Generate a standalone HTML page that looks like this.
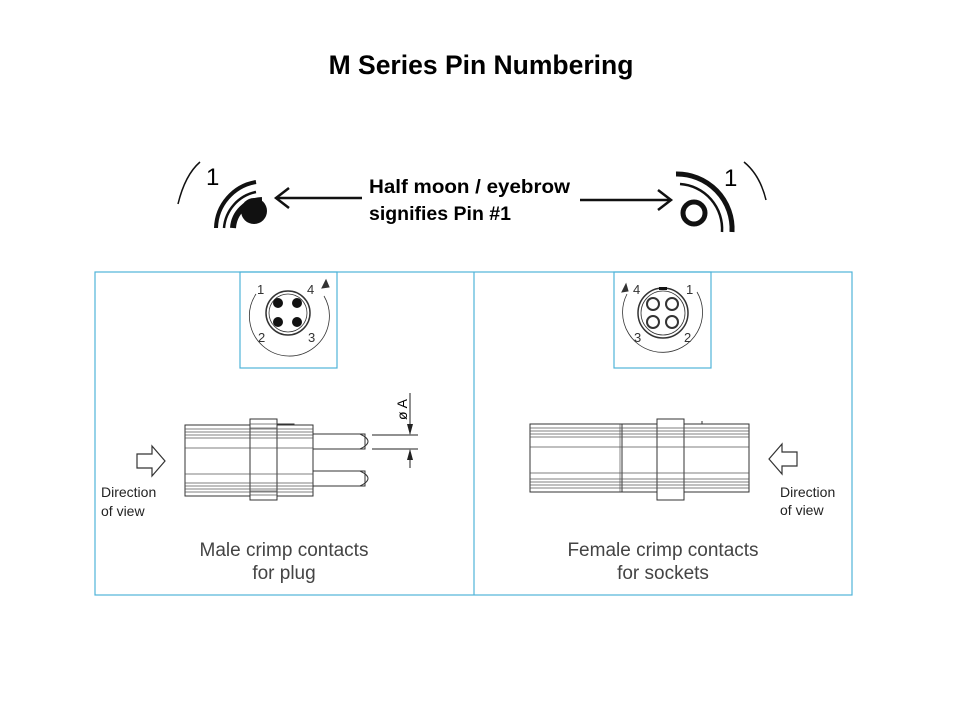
<!DOCTYPE html>
<html><head><style>
body{margin:0;background:#fff;}
svg{display:block;font-family:"Liberation Sans",sans-serif;}
</style></head><body>
<svg width="960" height="720" viewBox="0 0 960 720" xmlns="http://www.w3.org/2000/svg">
<text x="481" y="74" text-anchor="middle" font-size="26.5" font-weight="bold">M Series Pin Numbering</text>

<!-- top left symbol -->
<g fill="none" stroke="#111">
<path d="M178,204 Q185,175 200,162" stroke-width="1.5"/>
<path d="M216,228 A48,48 0 0 1 256,182" stroke-width="4"/>
<path d="M224,228 A40,40 0 0 1 256,192" stroke-width="2.5"/>
<path d="M233,228 A30,30 0 0 1 262,200" stroke-width="6"/>
</g>
<circle cx="254" cy="211" r="13" fill="#111"/>
<text x="206" y="185" font-size="24">1</text>
<line x1="362" y1="198" x2="277" y2="198" stroke="#111" stroke-width="2.5"/>
<path d="M289,188 L276,198 L289,208" fill="none" stroke="#111" stroke-width="2.5"/>
<text x="369" y="193" font-size="19.5" font-weight="bold" textLength="201" lengthAdjust="spacingAndGlyphs">Half moon / eyebrow</text>
<text x="369" y="220" font-size="19.5" font-weight="bold">signifies Pin #1</text>
<line x1="580" y1="200" x2="670" y2="200" stroke="#111" stroke-width="2.5"/>
<path d="M658,190 L671,200 L658,210" fill="none" stroke="#111" stroke-width="2.5"/>

<!-- top right symbol -->
<g fill="none" stroke="#111">
<path d="M744,162 Q760,175 766,200" stroke-width="1.5"/>
<path d="M676,174 A55,55 0 0 1 732,232" stroke-width="5"/>
<path d="M680,184 A45,45 0 0 1 722,232" stroke-width="2.5"/>
<circle cx="694" cy="213" r="11" stroke-width="5"/>
</g>
<text x="724" y="186" font-size="24">1</text>

<!-- boxes -->
<g fill="none" stroke="#4fb3d9" stroke-width="1.2">
<rect x="95" y="272" width="757" height="323"/>
<line x1="474" y1="272" x2="474" y2="595"/>
<rect x="240" y="272" width="97" height="96"/>
<rect x="614" y="272" width="97" height="96"/>
</g>

<!-- left face -->
<g fill="none" stroke="#333">
<path d="M256,294 A40,40 0 1 0 324,296" stroke-width="0.8"/>
<circle cx="288" cy="313" r="22" stroke-width="1.5"/>
<circle cx="288" cy="313" r="19" stroke-width="0.8"/>
<path d="M322,288 l4,-8 l3,7 z" fill="#333"/>
</g>
<g fill="#111"><circle cx="278" cy="303" r="5"/><circle cx="297" cy="303" r="5"/><circle cx="278" cy="322" r="5"/><circle cx="297" cy="322" r="5"/></g>
<g font-size="13" fill="#333"><text x="257" y="294">1</text><text x="307" y="294">4</text><text x="258" y="342">2</text><text x="308" y="342">3</text></g>

<!-- right face -->
<g fill="none" stroke="#333">
<path d="M627,294 A40,40 0 1 0 697,292" stroke-width="0.8"/>
<circle cx="663" cy="313" r="25" stroke-width="1.5"/>
<circle cx="663" cy="313" r="22" stroke-width="0.8"/>
<circle cx="653" cy="304" r="6" stroke-width="2"/><circle cx="672" cy="304" r="6" stroke-width="2"/>
<circle cx="653" cy="322" r="6" stroke-width="2"/><circle cx="672" cy="322" r="6" stroke-width="2"/>
<path d="M622,292 l4,-8 l2,7 z" fill="#333"/>
</g>
<rect x="659" y="287" width="8" height="3" fill="#111"/>
<g font-size="13" fill="#333"><text x="633" y="294">4</text><text x="686" y="294">1</text><text x="634" y="342">3</text><text x="684" y="342">2</text></g>

<!-- left connector -->
<g fill="#fff" stroke="#333" stroke-width="1">
<rect x="185" y="425" width="128" height="71"/>
<rect x="313" y="434" width="52" height="15"/>
<rect x="313" y="471" width="52" height="15"/>
<path d="M360,434 q16,7.5 0,15 M360,471 q16,7.5 0,15" fill="none"/>
<rect x="250" y="419" width="27" height="81"/>
<path d="M277,424 L294,424 L294,425" fill="none"/>
</g>
<g stroke="#555" stroke-width="0.7">
<line x1="185" y1="429" x2="313" y2="429"/><line x1="185" y1="432" x2="313" y2="432"/><line x1="185" y1="435" x2="313" y2="435"/><line x1="185" y1="438" x2="313" y2="438"/>
<line x1="185" y1="448" x2="313" y2="448"/><line x1="185" y1="474" x2="313" y2="474"/>
<line x1="185" y1="483" x2="313" y2="483"/><line x1="185" y1="486" x2="313" y2="486"/><line x1="185" y1="489" x2="313" y2="489"/><line x1="185" y1="492" x2="313" y2="492"/>
<line x1="250" y1="424" x2="277" y2="424"/><line x1="250" y1="428" x2="277" y2="428"/><line x1="250" y1="495" x2="277" y2="495"/><line x1="250" y1="491" x2="277" y2="491"/>
</g>
<g stroke="#222" stroke-width="1">
<line x1="372" y1="435" x2="418" y2="435"/><line x1="372" y1="449" x2="418" y2="449"/>
<line x1="410" y1="393" x2="410" y2="434"/><line x1="410" y1="450" x2="410" y2="468"/>
</g>
<path d="M407,424 L413,424 L410,435 Z M407,460 L413,460 L410,449 Z" fill="#222"/>
<text x="0" y="0" font-size="14" transform="translate(407,420) rotate(-90)">ø A</text>

<!-- right connector -->
<g fill="#fff" stroke="#333" stroke-width="1">
<rect x="530" y="424" width="92" height="68"/>
<rect x="622" y="424" width="127" height="68"/>
<rect x="657" y="419" width="27" height="81"/>
<path d="M684,424 L702,424 L702,421" fill="none"/>
</g>
<g stroke="#555" stroke-width="0.7">
<line x1="530" y1="428" x2="749" y2="428"/><line x1="530" y1="431" x2="749" y2="431"/><line x1="530" y1="434" x2="749" y2="434"/><line x1="530" y1="437" x2="749" y2="437"/>
<line x1="530" y1="447" x2="749" y2="447"/><line x1="530" y1="473" x2="749" y2="473"/>
<line x1="530" y1="479" x2="749" y2="479"/><line x1="530" y1="482" x2="749" y2="482"/><line x1="530" y1="485" x2="749" y2="485"/><line x1="530" y1="488" x2="749" y2="488"/>
<line x1="620" y1="424" x2="620" y2="492"/>
</g>

<!-- direction arrows -->
<path d="M137,454 L152,454 L152,446 L165,461 L152,476 L152,468 L137,468 Z" fill="#fff" stroke="#333" stroke-width="1.2"/>
<path d="M797,452 L782,452 L782,444 L769,459 L782,474 L782,466 L797,466 Z" fill="#fff" stroke="#333" stroke-width="1.2"/>
<g font-size="14" fill="#222">
<text x="101" y="497">Direction</text><text x="101" y="516">of view</text>
<text x="780" y="497">Direction</text><text x="780" y="515">of view</text>
</g>
<g font-size="19" fill="#444" text-anchor="middle">
<text x="284" y="556">Male crimp contacts</text><text x="284" y="579">for plug</text>
<text x="663" y="556">Female crimp contacts</text><text x="663" y="579">for sockets</text>
</g>
</svg>
</body></html>
